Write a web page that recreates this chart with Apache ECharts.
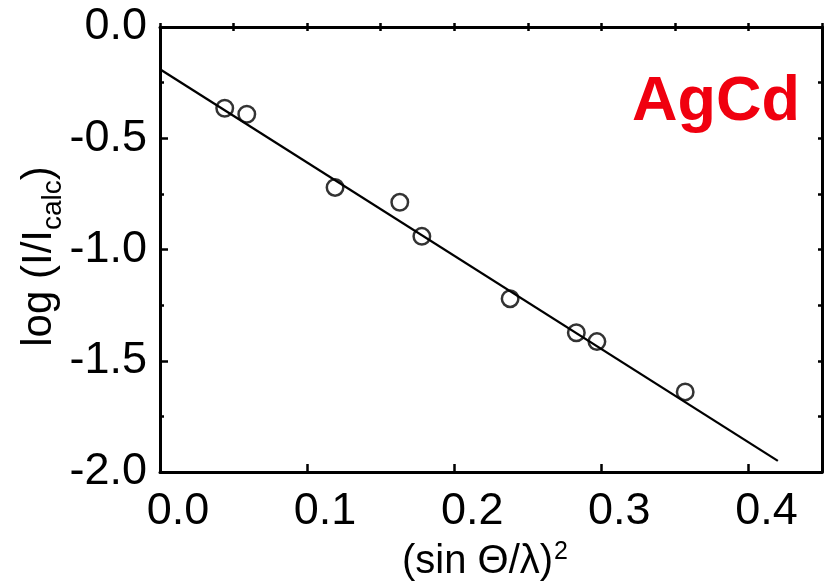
<!DOCTYPE html>
<html>
<head>
<meta charset="utf-8">
<script src="https://cdn.jsdelivr.net/npm/echarts@6/dist/echarts.min.js"></script>
<style>
html,body{margin:0;padding:0;background:#fff;}
#chart{width:829px;height:581px;}
</style>
</head>
<body>
<div id="chart"></div>
<script>
// Data
const xVals = [0.044, 0.059, 0.119, 0.163, 0.178, 0.238, 0.283, 0.297, 0.357];
const yVals = [-0.365, -0.392, -0.721, -0.788, -0.941, -1.221, -1.374, -1.414, -1.640];
const fitX = [0, 0.42];
const fitY = [-0.19, -1.95];
const xTickLabels = ['0.0', '0.1', '0.2', '0.3', '0.4'];
const yTickLabels = ['0.0', '-0.5', '-1.0', '-1.5', '-2.0'];
const sampleName = 'AgCd';

const FONT = '"Liberation Sans", Arial, sans-serif';
const chart = echarts.init(document.getElementById('chart'), null, {renderer: 'canvas'});

const pts = xVals.map((x, i) => [x, yVals[i]]);
const fit = fitX.map((x, i) => [x, fitY[i]]);

function fmtX(v) {
  const s = v.toFixed(1);
  return xTickLabels.indexOf(s) >= 0 && Math.abs(v - parseFloat(s)) < 1e-6 ? s : '';
}
function fmtY(v) {
  const t = (Math.abs(v) < 1e-9) ? '0.0' : v.toFixed(1);
  return yTickLabels.indexOf(t) >= 0 ? t : '';
}

const axisLineStyle = {color: '#000', width: 3};
const tickStyle = {color: '#000', width: 2.5};

chart.setOption({
  animation: false,
  backgroundColor: '#fff',
  grid: {left: 160, right: 7, top: 27, bottom: 109, containLabel: false, outerBoundsMode: 'none'},
  xAxis: [
    {
      type: 'value', position: 'bottom', min: 0, max: 0.45, interval: 0.1,
      axisLine: {show: true, onZero: false, lineStyle: axisLineStyle},
      axisTick: {show: true, inside: true, length: 8, lineStyle: tickStyle},
      axisLabel: {show: true, showMaxLabel: false, formatter: fmtX, margin: 17, color: '#000',
        fontSize: 45, fontFamily: FONT, padding: [0, 0, 0, 36]},
      splitLine: {show: false},
      name: '{m|(sin \u0398/\u03bb)}{s|2}',
      nameLocation: 'middle', nameGap: 67, nameMoveOverlap: false,
      nameTextStyle: {
        rich: {
          m: {fontSize: 40, lineHeight: 46, fontFamily: FONT, color: '#000'},
          s: {fontSize: 25, lineHeight: 25, fontFamily: FONT, color: '#000', padding: [0, 12, 19, 1]}
        }
      }
    },
    {
      type: 'value', position: 'bottom', min: 0, max: 0.45, interval: 0.05,
      axisLine: {show: false},
      axisTick: {show: true, inside: true, length: 4, lineStyle: tickStyle},
      axisLabel: {show: false}, splitLine: {show: false}
    },
    {
      type: 'value', position: 'top', min: 0, max: 0.45, interval: 0.05,
      axisLine: {show: true, onZero: false, lineStyle: axisLineStyle},
      axisTick: {show: true, inside: true, length: 4, lineStyle: tickStyle},
      axisLabel: {show: false}, splitLine: {show: false}
    }
  ],
  yAxis: [
    {
      type: 'value', position: 'left', min: -2, max: 0, interval: 0.5,
      axisLine: {show: true, onZero: false, lineStyle: axisLineStyle},
      axisTick: {show: true, inside: true, length: 8, lineStyle: tickStyle},
      axisLabel: {show: true, formatter: fmtY, margin: 13, color: '#000', fontSize: 45, fontFamily: FONT},
      splitLine: {show: false},
      name: '{m|log (I/I}{s|calc}{e|)}',
      nameLocation: 'middle', nameGap: 98, nameRotate: 90, nameMoveOverlap: false,
      nameTextStyle: {
        rich: {
          m: {fontSize: 42, lineHeight: 46, fontFamily: FONT, color: '#000'},
          e: {fontSize: 42, lineHeight: 46, fontFamily: FONT, color: '#000', padding: [0, 14, 0, 0]},
          s: {fontSize: 28, lineHeight: 28, fontFamily: FONT, color: '#000', padding: [28, 0, 0, 0]}
        }
      }
    },
    {
      type: 'value', position: 'left', min: -2, max: 0, interval: 0.25,
      axisLine: {show: false},
      axisTick: {show: true, inside: true, length: 4, lineStyle: tickStyle},
      axisLabel: {show: false}, splitLine: {show: false}
    },
    {
      type: 'value', position: 'right', min: -2, max: 0, interval: 0.25,
      axisLine: {show: true, onZero: false, lineStyle: axisLineStyle},
      axisTick: {show: true, inside: true, length: 4, lineStyle: tickStyle},
      axisLabel: {show: false}, splitLine: {show: false}
    }
  ],
  series: [
    {
      type: 'line', xAxisIndex: 0, yAxisIndex: 0, data: fit,
      showSymbol: false, symbol: 'none',
      lineStyle: {color: '#000', width: 2.3}, z: 2
    },
    {
      type: 'scatter', xAxisIndex: 0, yAxisIndex: 0, data: pts,
      symbol: 'circle', symbolSize: 16.5,
      itemStyle: {color: 'rgba(0,0,0,0)', borderColor: '#000', borderWidth: 2.5}, z: 3
    }
  ],
  graphic: [
    {
      type: 'text', left: 632, top: 71, z: 10,
      style: {text: sampleName, fill: '#f0000f', font: 'bold 63px ' + FONT}
    }
  ]
});
</script>
</body>
</html>
